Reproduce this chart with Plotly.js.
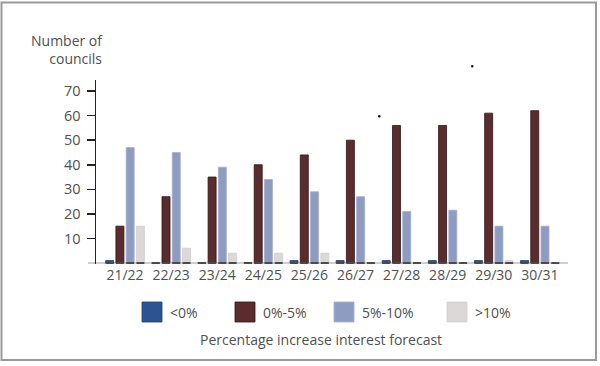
<!DOCTYPE html>
<html>
<head>
<meta charset="utf-8">
<script src="https://cdn.plot.ly/plotly-3.0.1.min.js"></script>
<style>
html,body{margin:0;padding:0;background:#fff;}
#chart{width:600px;height:366px;}
</style>
</head>
<body>
<div id="chart"></div>
<script>
// ---- Data ----
var categories = ["21/22","22/23","23/24","24/25","25/26","26/27","27/28","28/29","29/30","30/31"];
var seriesNames = ["<0%","0%-5%","5%-10%",">10%"];
var below0   = [1, 0, 0, 0, 1, 1, 1, 1, 1, 1];
var pct0to5  = [15, 27, 35, 40, 44, 50, 56, 56, 61, 62];
var pct5to10 = [47, 45, 39, 34, 29, 27, 21, 21.5, 15, 15];
var above10  = [15, 6, 4, 4, 4, 0, 0, 0, 1, 0];
var yTicks = [10, 20, 30, 40, 50, 60, 70];
var yTitle = "Number of<br>councils";
var xTitle = "Percentage increase interest forecast";

// ---- Styles ----
var colors = ["#2d5490", "#5b2c2e", "#8f9cc2", "#ddd8d8"];
var lineColors = ["#1f3f70", "#2e1414", "#a3aed0", "#d2cdcd"];
var font = "'Open Sans', 'Noto Sans', sans-serif";
var textColor = "#505050";

var W = 600, H = 366;
var mL = 96, mR = 32, mT = 80, mB = 102;
var pw = W - mL - mR, ph = H - mT - mB;
function px(x){ return (x - mL) / pw; }
function py(y){ return (H - mB - y) / ph; }

var allSeries = [below0, pct0to5, pct5to10, above10];
var traces = [];
allSeries.forEach(function(vals, i){
  traces.push({
    type: "bar", x: categories, y: vals, name: seriesNames[i],
    offsetgroup: String(i),
    marker: {color: colors[i], line: {color: lineColors[i], width: 0.8}},
    showlegend: false, hoverinfo: "x+y+name"
  });
});
// dark bottom edge under every bar (as in the original rendering)
allSeries.forEach(function(vals, i){
  traces.push({
    type: "bar", x: categories, y: vals.map(function(){ return 0.8; }), base: -0.4,
    offsetgroup: String(i),
    marker: {color: "#4a4a4a", line: {width: 0}},
    showlegend: false, hoverinfo: "skip"
  });
});

var shapes = [
  // outer frame
  {type: "rect", xref: "paper", yref: "paper",
   x0: px(1.5), x1: px(596), y0: py(360), y1: py(2.5),
   line: {color: "#9a9a9a", width: 2}, fillcolor: "rgba(0,0,0,0)", layer: "below"},
  // baseline
  {type: "line", xref: "paper", yref: "y", x0: px(88), x1: px(568), y0: 0, y1: 0,
   line: {color: "#cfcfcf", width: 2}, layer: "below"},
  // small stray dots present in the original image
  {type: "circle", xref: "paper", yref: "paper", x0: px(378), x1: px(380.5), y0: py(117.5), y1: py(115),
   fillcolor: "#111", line: {width: 0}},
  {type: "circle", xref: "paper", yref: "paper", x0: px(471), x1: px(473.5), y0: py(67.5), y1: py(65),
   fillcolor: "#111", line: {width: 0}}
];
var annotations = [
  {xref: "paper", yref: "paper", x: px(105), y: py(50), xanchor: "right", yanchor: "middle",
   text: yTitle, align: "right", showarrow: false,
   font: {family: font, size: 14, color: textColor}},
  {xref: "paper", yref: "paper", x: px(321), y: py(339), xanchor: "center", yanchor: "middle",
   text: xTitle, showarrow: false,
   font: {family: font, size: 14, color: textColor}}
];
// custom legend with large square swatches
var swatchX = [142, 235, 334, 447];
seriesNames.forEach(function(n, i){
  shapes.push({type: "rect", xref: "paper", yref: "paper",
    x0: px(swatchX[i]), x1: px(swatchX[i] + 20), y0: py(322), y1: py(302),
    fillcolor: colors[i], line: {color: lineColors[i], width: 0.8}});
  annotations.push({xref: "paper", yref: "paper", x: px(swatchX[i] + 26), y: py(312),
    xanchor: "left", yanchor: "middle", text: n, showarrow: false,
    font: {family: font, size: 14, color: textColor}});
});

var layout = {
  width: W, height: H,
  margin: {l: mL, r: mR, t: mT, b: mB, pad: 0},
  paper_bgcolor: "#fff", plot_bgcolor: "#fff",
  barmode: "group", bargap: 0.11, bargroupgap: 0.22,
  showlegend: false,
  font: {family: font, color: textColor},
  xaxis: {
    type: "category", range: [-0.63, 9.61],
    showline: false, showgrid: false, zeroline: false, ticks: "",
    tickfont: {family: font, size: 14, color: textColor},
    ticklabelstandoff: 1
  },
  yaxis: {
    range: [-0.4, 74.5],
    showline: true, linecolor: "#222", linewidth: 1.5,
    showgrid: false, zeroline: false,
    ticks: "outside", ticklen: 8, tickwidth: 1.5, tickcolor: "#222",
    tickvals: yTicks, ticktext: yTicks.map(String),
    tickfont: {family: font, size: 14.5, color: textColor},
    ticklabelstandoff: 3
  },
  shapes: shapes,
  annotations: annotations
};

Plotly.newPlot("chart", traces, layout, {displayModeBar: false, staticPlot: true});
</script>
</body>
</html>
